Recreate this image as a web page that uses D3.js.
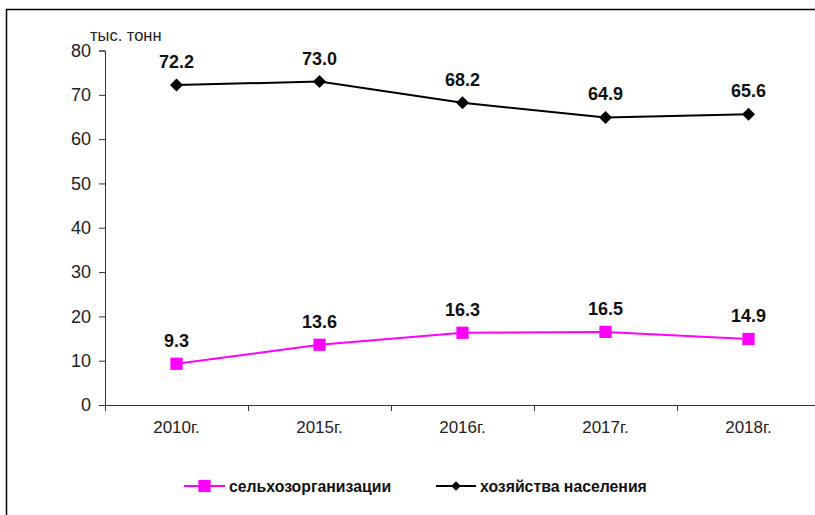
<!DOCTYPE html>
<html>
<head>
<meta charset="utf-8">
<script src="https://cdn.jsdelivr.net/npm/d3@7"></script>
<style>
  body { margin: 0; background: #fff; }
  svg text { font-family: "Liberation Sans Narrow", "Arial Narrow", "Liberation Sans", Arial, sans-serif; }
</style>
</head>
<body>
<div id="chart"></div>
<script>
const years = ['2010г.', '2015г.', '2016г.', '2017г.', '2018г.'];
const agroOrgs = [9.3, 13.6, 16.3, 16.5, 14.9];
const households = [72.2, 73.0, 68.2, 64.9, 65.6];
const yTicks = [0, 10, 20, 30, 40, 50, 60, 70, 80];

const width = 815, height = 515;
const margin = { left: 105, right: 820, top: 50.5, bottom: 405 };

const svg = d3.select('#chart').append('svg')
    .attr('width', width)
    .attr('height', height);

// outer frame (top and left edges visible)
svg.append('path')
    .attr('d', `M6.5,515 V9.5 H815`)
    .attr('fill', 'none')
    .attr('stroke', '#000')
    .attr('stroke-width', 1.5);

const x = d3.scaleBand().domain(years).range([margin.left, margin.right]);
const y = d3.scaleLinear().domain([0, 80]).range([margin.bottom, margin.top]);

// y axis
const yAxis = svg.append('g')
    .attr('transform', `translate(${margin.left},0)`)
    .call(d3.axisLeft(y).tickValues(yTicks).tickSize(6).tickPadding(8).tickFormat(d3.format('d')));
yAxis.select('.domain').attr('stroke', '#333');
yAxis.selectAll('.tick line').attr('stroke', '#333');
yAxis.selectAll('text').attr('font-size', 18).attr('fill', '#222');

// x axis
const xAxis = svg.append('g')
    .attr('transform', `translate(0,${margin.bottom})`)
    .call(d3.axisBottom(x).tickSize(0).tickPadding(16));
xAxis.select('.domain').attr('stroke', '#333').attr('d', `M${margin.left - 6},0.5H${margin.right}`);
xAxis.selectAll('text').attr('font-size', 17).attr('fill', '#222');
svg.append('g').selectAll('line')
    .data(years)
    .join('line')
    .attr('x1', d => x(d) + 0.5).attr('x2', d => x(d) + 0.5)
    .attr('y1', margin.bottom).attr('y2', margin.bottom + 6)
    .attr('stroke', '#333');

svg.append('text')
    .attr('transform', 'translate(90,41) scale(0.97,1)')
    .attr('font-size', 17)
    .attr('fill', '#222')
    .text('тыс. тонн');

const cx = d => x(d) + x.bandwidth() / 2;

const series = [
    { name: 'сельхозорганизации', values: agroOrgs, color: '#ff00ff', symbol: d3.symbolSquare, size: 150, rot: 0, legendSize: 150 },
    { name: 'хозяйства населения', values: households, color: '#000', symbol: d3.symbolSquare, size: 85, rot: 45, legendSize: 45 }
];

series.forEach(s => {
    const pts = years.map((yr, i) => ({ x: cx(yr), y: y(s.values[i]), v: s.values[i] }));
    svg.append('path')
        .datum(pts)
        .attr('fill', 'none')
        .attr('stroke', s.color)
        .attr('stroke-width', 2)
        .attr('d', d3.line().x(d => d.x).y(d => d.y));
    svg.append('g').selectAll('path')
        .data(pts)
        .join('path')
        .attr('transform', d => `translate(${d.x},${d.y}) rotate(${s.rot})`)
        .attr('d', d3.symbol().type(s.symbol).size(s.size))
        .attr('fill', s.color);
    svg.append('g').selectAll('text')
        .data(pts)
        .join('text')
        .attr('x', d => d.x)
        .attr('y', d => d.y - 17)
        .attr('text-anchor', 'middle')
        .attr('font-size', 18)
        .attr('font-weight', 'bold')
        .attr('fill', '#111')
        .text(d => d3.format('.1f')(d.v));
});

// legend
const legend = [
    { s: series[0], x0: 184, x1: 225 },
    { s: series[1], x0: 436, x1: 476 }
];
legend.forEach(l => {
    const g = svg.append('g');
    g.append('line')
        .attr('x1', l.x0).attr('x2', l.x1)
        .attr('y1', 486).attr('y2', 486)
        .attr('stroke', l.s.color).attr('stroke-width', 2);
    g.append('path')
        .attr('transform', `translate(${(l.x0 + l.x1) / 2},486) rotate(${l.s.rot})`)
        .attr('d', d3.symbol().type(l.s.symbol).size(l.s.legendSize))
        .attr('fill', l.s.color);
    g.append('text')
        .attr('transform', `translate(${l.x1 + 4},492) scale(0.93,1)`)
        .attr('font-size', 17)
        .attr('font-weight', 'bold')
        .attr('fill', '#111')
        .text(l.s.name);
});
</script>
</body>
</html>
